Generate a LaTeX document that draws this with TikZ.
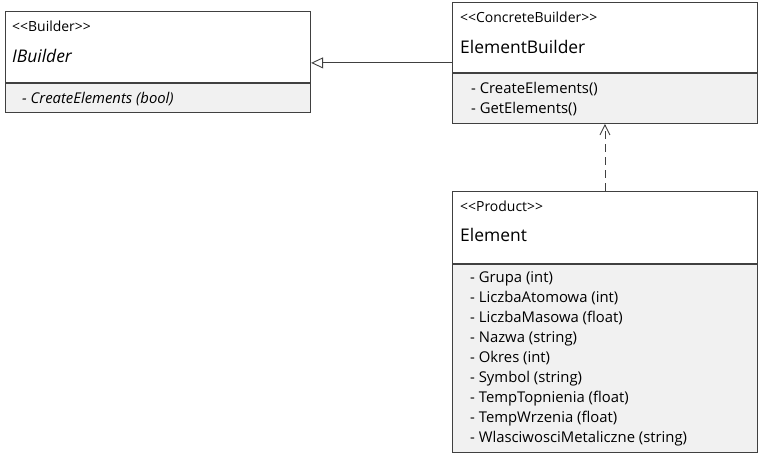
\documentclass[tikz,border=0pt]{standalone}
\usepackage{fontspec}
\setmainfont{Open Sans}[Ligatures=TeXOff]
\usetikzlibrary{arrows.meta,positioning,fit}

\definecolor{framecol}{rgb}{0.25,0.25,0.25}
\definecolor{bodycol}{rgb}{0.945,0.945,0.945}

\tikzset{
  classhead/.style={draw=framecol, fill=white, line width=0.9bp, minimum width=305bp,
    inner sep=0pt, anchor=north west},
  classbody/.style={draw=framecol, fill=bodycol, line width=0.9bp, minimum width=305bp,
    inner sep=0pt, anchor=north west},
  classbox/.style={inner sep=0pt},
  stereo/.style={anchor=base west, inner sep=0pt, font=\fontsize{14}{16}\selectfont},
  cname/.style={anchor=base west, inner sep=0pt, font=\fontsize{17.5}{20}\selectfont},
  member/.style={anchor=base west, inner sep=0pt, font=\fontsize{14.9}{17}\selectfont},
  gen/.style={draw=framecol, line width=0.9bp, -{Triangle[open, length=12bp, width=11bp]}},
  dep/.style={draw=framecol, line width=0.9bp, dash pattern=on 8bp off 5bp,
    -{Straight Barb[length=10bp, width=10bp]}},
}

\begin{document}
\begin{tikzpicture}[x=1bp,y=-1bp]
\useasboundingbox (0,0) rectangle (760,455);

% IBuilder
\node[classhead, minimum height=71bp] (ibhead) at (5,11) {};
\node[classbody, minimum height=29bp] (ibbody) at (ibhead.south west) {};
\node[classbox, fit=(ibhead)(ibbody)] (ib) {};
\node[stereo] (ibst) at ([shift={(7,21)}]ibhead.north west) {<<Builder>>};
\node[cname] (ibname) at ([shift={(7,52)}]ibhead.north west) {\itshape IBuilder};
\node[member] (ibm1) at ([shift={(17,21)}]ibbody.north west) {\itshape - CreateElements (bool)};

% ElementBuilder
\node[classhead, minimum height=70bp] (ebhead) at (452,2) {};
\node[classbody, minimum height=50bp] (ebbody) at (ebhead.south west) {};
\node[classbox, fit=(ebhead)(ebbody)] (eb) {};
\node[stereo] (ebst) at ([shift={(8,21)}]ebhead.north west) {<<ConcreteBuilder>>};
\node[cname] (ebname) at ([shift={(8,52)}]ebhead.north west) {ElementBuilder};
\foreach \t [count=\i] in {{- CreateElements()},{- GetElements()}}
  \node[member] (ebm\i) at ([shift={(19,{1+20*\i})}]ebbody.north west) {\t};

% Element
\node[classhead, minimum height=72bp] (elhead) at (452,191) {};
\node[classbody, minimum height=188bp] (elbody) at (elhead.south west) {};
\node[classbox, fit=(elhead)(elbody)] (el) {};
\node[stereo] (elst) at ([shift={(8,21)}]elhead.north west) {<<Product>>};
\node[cname] (elname) at ([shift={(8,51)}]elhead.north west) {Element};
\foreach \t [count=\i] in {{- Grupa (int)},{- LiczbaAtomowa (int)},{- LiczbaMasowa (float)},
    {- Nazwa (string)},{- Okres (int)},{- Symbol (string)},{- TempTopnienia (float)},
    {- TempWrzenia (float)},{- WlasciwosciMetaliczne (string)}}
  \node[member] (elm\i) at ([shift={(18,{-1+20*\i})}]elbody.north west) {\t};

% relations
\draw[gen] (eb.west) -- (eb.west -| ib.east);
\draw[dep] (el.north) -- (eb.south);
\end{tikzpicture}
\end{document}
